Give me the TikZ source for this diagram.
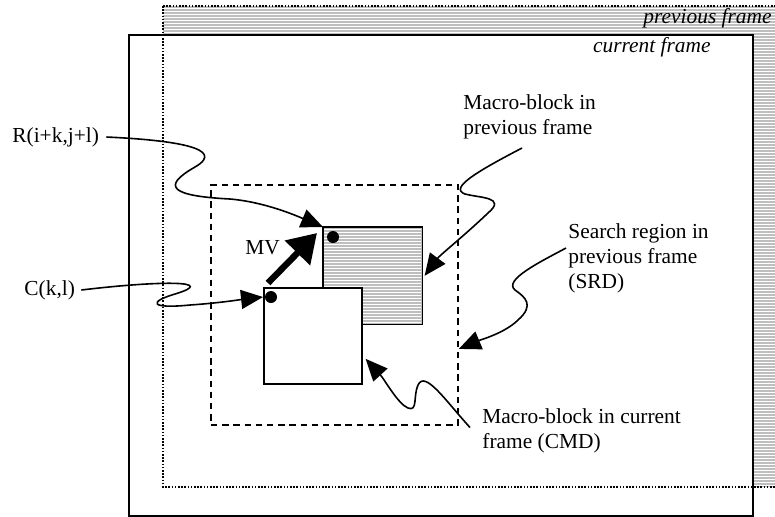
\documentclass[tikz,border=0pt]{standalone}
\usepackage{fontspec}
\setmainfont{Liberation Serif}
\usetikzlibrary{arrows.meta}
\definecolor{hatchgray}{RGB}{190,190,190}
\begin{document}
\begin{tikzpicture}[x=0.5pt,y=-0.5pt,
  lbl/.style={inner sep=0pt, font=\fontsize{10.7}{12.5}\selectfont, align=left},
  ilbl/.style={inner sep=0pt, font=\fontsize{10.7}{12.5}\selectfont\itshape},
  conn/.style={line width=0.8pt, -{Triangle[length=11pt,width=9.5pt]}},
  hatchline/.style={white, line width=0.5pt},
  mb/.style={draw, line width=0.8pt, inner sep=0pt, minimum width=49pt, minimum height=48pt, anchor=north west},
  dotmark/.style={circle, fill, inner sep=0pt, minimum size=6pt}]
\useasboundingbox (0,0) rectangle (775,516);
\clip (0,0) rectangle (775,516);
% previous frame (hatched)
\begin{scope}
  \clip (163,6) rectangle (790,487);
  \fill[hatchgray] (163,6) rectangle (790,487);
  \foreach \yy in {8.5,11.5,...,487} \draw[hatchline] (163,\yy) -- (790,\yy);
\end{scope}
% current frame
\node (cur) [draw, fill=white, line width=1pt, inner sep=0pt, minimum width=312pt, minimum height=240.5pt, anchor=north west] at (128,34) {};
% outline of previous frame
\draw[line width=1pt, dash pattern=on 0.8pt off 0.8pt] (163,6) rectangle (790,487);
% frame labels
\node (pfl) [ilbl, anchor=east] at (772,18) {previous frame};
\node (cfl) [ilbl, anchor=east] at (711,47) {current frame};
% search region
\node (srd) [draw, line width=0.9pt, dash pattern=on 3.2pt off 2.4pt, inner sep=0pt, minimum width=123.5pt, minimum height=120pt, anchor=north west] at (210,184) {};
% macro-block in previous frame (hatched)
\node (pmb) [mb, draw=none, fill=hatchgray] at (323,227) {};
\begin{scope}
  \clip (pmb.south west) rectangle (pmb.north east);
  \foreach \yy in {229.5,232.5,...,323} \draw[hatchline] (323,\yy) -- (421,\yy);
\end{scope}
\draw[line width=0.8pt] (pmb.south west) rectangle (pmb.north east);
% macro-block in current frame
\node (cmb) [mb, fill=white] at (263,287) {};
\node (pdot) [dotmark] at (333,237) {};
\node (cdot) [dotmark] at (271,297) {};
% labels
\node (R) [lbl, anchor=west] at (12,137) {R(i+k,j+l)};
\node (C) [lbl, anchor=west] at (24,290) {C(k,l)};
\node (MV) [lbl, anchor=west] at (245,248) {MV};
\node (mbpl) [lbl, anchor=west] at (463,117) {Macro-block in\\previous frame};
\node (srdl) [lbl, anchor=west] at (568,258) {Search region in\\previous frame\\(SRD)};
\node (cmbl) [lbl, anchor=west] at (482,430.5) {Macro-block in current\\frame (CMD)};
% motion vector
\coordinate (mvs) at ([shift={(2.5pt,2pt)}]cmb.north west);
\coordinate (mve) at ([shift={(-3pt,-3pt)}]pmb.north west);
\draw[line width=3.2pt, -{Triangle[length=14pt,width=17pt]}] (mvs) -- (mve);
% connectors
\draw[conn] ([xshift=3.5pt]R.east) .. controls (172,140) and (228,148) .. (195,167)
  .. controls (160,187) and (172,196) .. (230,199)
  .. controls (265,202) and (297,216) .. (pmb.north west);
\draw[conn] ([xshift=3pt]C.east) .. controls (165,280) and (218,281) .. (175,294)
  .. controls (148,302) and (150,309) .. (190,305)
  .. controls (220,303) and (245,299) .. ([yshift=-5pt]cmb.north west);
\coordinate (mbps) at (522,148);
\draw[conn] (mbps) .. controls (480,170) and (448,188) .. (465,194)
  .. controls (480,198) and (507,197) .. (488,213)
  .. controls (465,235) and (440,255) .. ([xshift=1pt]pmb.east);
\draw[conn] ([shift={(-1pt,5pt)}]srdl.west) .. controls (540,262) and (503,280) .. (515,290)
  .. controls (525,297) and (535,305) .. (518,320)
  .. controls (505,333) and (480,340) .. ([yshift=-22pt]srd.east);
\draw[conn] ([shift={(-6pt,1.5pt)}]cmbl.west) .. controls (445,400) and (425,370) .. (418,385)
  .. controls (413,396) and (418,412) .. (408,408)
  .. controls (398,404) and (385,380) .. ([shift={(1.5pt,-11.5pt)}]cmb.east);
\end{tikzpicture}
\end{document}
